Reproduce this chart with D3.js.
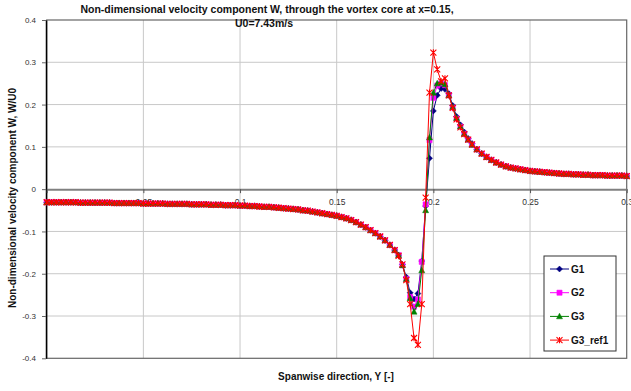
<!DOCTYPE html>
<html>
<head>
<meta charset="utf-8">
<script src="https://cdn.jsdelivr.net/npm/d3@7"></script>
<style>
  body { margin: 0; background: #fff; }
  svg { display: block; font-family: "Liberation Sans", Arial, sans-serif; }
</style>
</head>
<body>
<script>
// Spanwise positions Y: coarse on the flanks, finer through the core
const leftY = [
  0, 0.0025, 0.005, 0.0075, 0.01, 0.0125, 0.015, 0.0175, 0.02, 0.0225,
  0.025, 0.0275, 0.03, 0.0325, 0.035, 0.0375, 0.04, 0.0425, 0.045, 0.0475,
  0.05, 0.0525, 0.055, 0.0575, 0.06, 0.0625, 0.065, 0.0675, 0.07, 0.0725,
  0.075, 0.0775, 0.08, 0.0825, 0.085, 0.0875, 0.09, 0.0925, 0.095, 0.0975,
  0.1, 0.1025, 0.105, 0.1075, 0.11, 0.1125, 0.115, 0.1175, 0.12, 0.1225,
  0.125, 0.1275, 0.13, 0.1325, 0.135, 0.1375, 0.14, 0.1425, 0.145, 0.1475,
  0.15, 0.1525, 0.155, 0.1575, 0.16, 0.1625, 0.165, 0.1675, 0.17, 0.1725,
  0.175, 0.1775, 0.18
];
const coreY = [
  0.182, 0.184, 0.186, 0.188, 0.19, 0.192, 0.194, 0.196, 0.198, 0.2,
  0.202, 0.204, 0.206, 0.208, 0.21, 0.212, 0.214, 0.216, 0.218, 0.22
];
const rightY = [
  0.2225, 0.225, 0.2275, 0.23, 0.2325, 0.235, 0.2375, 0.24, 0.2425, 0.245,
  0.2475, 0.25, 0.2525, 0.255, 0.2575, 0.26, 0.2625, 0.265, 0.2675, 0.27,
  0.2725, 0.275, 0.2775, 0.28, 0.2825, 0.285, 0.2875, 0.29, 0.2925, 0.295,
  0.2975, 0.3
];

// W/U0 on the flanks, where all grids agree
const leftW = [
  -0.031, -0.031, -0.031, -0.031, -0.031, -0.031, -0.031, -0.032, -0.032, -0.032,
  -0.032, -0.032, -0.032, -0.032, -0.033, -0.033, -0.033, -0.033, -0.033, -0.033,
  -0.034, -0.034, -0.034, -0.034, -0.034, -0.035, -0.035, -0.035, -0.035, -0.035,
  -0.036, -0.036, -0.036, -0.036, -0.037, -0.037, -0.037, -0.038, -0.038, -0.038,
  -0.039, -0.039, -0.040, -0.040, -0.041, -0.042, -0.042, -0.043, -0.044, -0.045,
  -0.046, -0.047, -0.048, -0.050, -0.051, -0.053, -0.055, -0.057, -0.059, -0.061,
  -0.063, -0.066, -0.069, -0.073, -0.078, -0.084, -0.090, -0.097, -0.104, -0.112,
  -0.121, -0.132, -0.144
];
const rightW = [
  0.094, 0.084, 0.076, 0.069, 0.063, 0.058, 0.054, 0.051, 0.049, 0.047,
  0.045, 0.043, 0.042, 0.041, 0.040, 0.039, 0.038, 0.037, 0.036, 0.036,
  0.035, 0.035, 0.034, 0.034, 0.033, 0.033, 0.033, 0.032, 0.032, 0.032,
  0.032, 0.031
];

// W/U0 through the vortex core, per grid
const g1Core = [
  -0.156, -0.178, -0.208, -0.245, -0.260, -0.247, -0.170, -0.040, 0.073, 0.185,
  0.222, 0.238, 0.236, 0.226, 0.198, 0.172, 0.152, 0.135, 0.120, 0.108
];
const g2Core = [
  -0.156, -0.180, -0.212, -0.255, -0.278, -0.261, -0.172, -0.036, 0.116, 0.216,
  0.245, 0.250, 0.246, 0.222, 0.193, 0.167, 0.148, 0.131, 0.117, 0.105
];
const g3Core = [
  -0.156, -0.180, -0.213, -0.258, -0.290, -0.272, -0.192, -0.050, 0.122, 0.228,
  0.250, 0.252, 0.248, 0.222, 0.194, 0.168, 0.148, 0.131, 0.117, 0.105
];
const g3RefCore = [
  -0.158, -0.178, -0.215, -0.272, -0.352, -0.368, -0.272, -0.020, 0.228, 0.323,
  0.283, 0.255, 0.262, 0.222, 0.192, 0.165, 0.146, 0.130, 0.117, 0.106
];

const seriesNames = ['G1', 'G2', 'G3', 'G3_ref1'];
const xTicks = [0, 0.05, 0.1, 0.15, 0.2, 0.25, 0.3];
const xTickLabels = ['0', '0.05', '0.1', '0.15', '0.2', '0.25', '0.3'];
const yTicks = [0.4, 0.3, 0.2, 0.1, 0, -0.1, -0.2, -0.3, -0.4];
const yTickLabels = ['0.4', '0.3', '0.2', '0.1', '0', '-0.1', '-0.2', '-0.3', '-0.4'];

const width = 631;
const height = 391;
const plot = { left: 46.7, right: 626.7, top: 20, bottom: 358.3 };

const spanY = leftY.concat(coreY, rightY);
const series = [
  { name: seriesNames[0], w: leftW.concat(g1Core, rightW), color: '#000080', marker: 'diamond' },
  { name: seriesNames[1], w: leftW.concat(g2Core, rightW), color: '#ff00ff', marker: 'square' },
  { name: seriesNames[2], w: leftW.concat(g3Core, rightW), color: '#008000', marker: 'triangle' },
  { name: seriesNames[3], w: leftW.concat(g3RefCore, rightW), color: '#ff0000', marker: 'star' }
];

const x = d3.scaleLinear().domain([0, 0.3]).range([plot.left, plot.right]);
const y = d3.scaleLinear().domain([-0.4, 0.4]).range([plot.bottom, plot.top]);

const svg = d3.select('body').append('svg')
  .attr('width', width)
  .attr('height', height);

// Gridlines
svg.append('g')
  .selectAll('line')
  .data(xTicks.slice(1, -1))
  .enter()
  .append('line')
  .attr('x1', d => x(d)).attr('x2', d => x(d))
  .attr('y1', plot.top).attr('y2', plot.bottom)
  .attr('stroke', '#c8c8c8');

svg.append('g')
  .selectAll('line')
  .data(yTicks.filter(d => d !== 0 && Math.abs(d) !== 0.4))
  .enter()
  .append('line')
  .attr('x1', plot.left).attr('x2', plot.right)
  .attr('y1', d => y(d)).attr('y2', d => y(d))
  .attr('stroke', '#c8c8c8');

// Plot frame
svg.append('rect')
  .attr('x', plot.left).attr('y', plot.top)
  .attr('width', plot.right - plot.left)
  .attr('height', plot.bottom - plot.top)
  .attr('fill', 'none')
  .attr('stroke', '#666')
  .attr('stroke-width', 1.2);

// Y axis on the left edge
const yAxis = svg.append('g')
  .attr('transform', `translate(${plot.left - 0.7},0)`)
  .call(d3.axisLeft(y)
    .tickValues(yTicks)
    .tickSize(4)
    .tickSizeOuter(0)
    .tickPadding(6)
    .tickFormat((d, i) => yTickLabels[i]));
yAxis.select('.domain').attr('stroke', '#000').attr('stroke-width', 1.5);
yAxis.selectAll('.tick line').attr('stroke', '#666');
yAxis.selectAll('text').attr('font-size', 8).attr('fill', '#333');

// X axis along W = 0
const xAxis = svg.append('g')
  .attr('transform', `translate(0,${y(0)})`)
  .call(d3.axisBottom(x)
    .tickValues(xTicks)
    .tickSize(4)
    .tickSizeOuter(0)
    .tickPadding(6)
    .tickFormat((d, i) => xTickLabels[i]));
xAxis.select('.domain').attr('stroke', '#808080').attr('stroke-width', 2);
xAxis.selectAll('.tick line').attr('stroke', '#555');
xAxis.selectAll('text').attr('font-size', 8.5).attr('fill', '#333');

function markerPath (type) {
  if (type === 'diamond') return 'M0,-3L3,0L0,3L-3,0Z';
  if (type === 'square') return 'M-2.6,-2.6H2.6V2.6H-2.6Z';
  if (type === 'triangle') return 'M0,-3.2L3,2.4H-3Z';
  return 'M-3,-3L3,3M-3,3L3,-3M0,-3.2V3.2';
}

const line = d3.line()
  .x((d, i) => x(spanY[i]))
  .y(d => y(d));

series.forEach(s => {
  const g = svg.append('g');
  g.append('path')
    .attr('d', line(s.w))
    .attr('fill', 'none')
    .attr('stroke', s.color)
    .attr('stroke-width', 1);

  g.selectAll('path.pt')
    .data(s.w)
    .enter()
    .append('path')
    .attr('class', 'pt')
    .attr('transform', (d, i) => `translate(${x(spanY[i])},${y(d)})`)
    .attr('d', markerPath(s.marker))
    .attr('fill', s.marker === 'star' ? 'none' : s.color)
    .attr('stroke', s.color)
    .attr('stroke-width', s.marker === 'star' ? 1.1 : 0.5);
});

// Legend
const legend = svg.append('g').attr('transform', 'translate(544,256)');
legend.append('rect')
  .attr('width', 72).attr('height', 95)
  .attr('fill', '#fff')
  .attr('stroke', '#333')
  .attr('stroke-width', 1);

series.forEach((s, i) => {
  const row = legend.append('g').attr('transform', `translate(0,${13 + i * 23.7})`);
  row.append('line')
    .attr('x1', 6).attr('x2', 25)
    .attr('stroke', s.color).attr('stroke-width', 1);
  row.append('path')
    .attr('transform', 'translate(15.5,0)')
    .attr('d', markerPath(s.marker))
    .attr('fill', s.marker === 'star' ? 'none' : s.color)
    .attr('stroke', s.color)
    .attr('stroke-width', s.marker === 'star' ? 1.1 : 0.5);
  row.append('text')
    .attr('x', 27).attr('y', 3.5)
    .attr('font-size', 10)
    .attr('font-weight', 'bold')
    .attr('fill', '#111')
    .text(s.name);
});

// Titles
const title = svg.append('text')
  .attr('x', 267)
  .attr('text-anchor', 'middle')
  .attr('font-size', 10.5)
  .attr('font-weight', 'bold')
  .attr('fill', '#111');
title.append('tspan').attr('x', 267).attr('y', 12.5)
  .text('Non-dimensional velocity component W, through the vortex core at x=0.15,');
title.append('tspan').attr('x', 264).attr('y', 26.5)
  .text('U0=7.43m/s');

svg.append('text')
  .attr('transform', 'translate(15.5,198) rotate(-90)')
  .attr('text-anchor', 'middle')
  .attr('font-size', 10)
  .attr('font-weight', 'bold')
  .attr('fill', '#111')
  .text('Non-dimensional velocity component W, W/U0');

svg.append('text')
  .attr('x', 336)
  .attr('y', 380)
  .attr('text-anchor', 'middle')
  .attr('font-size', 10)
  .attr('font-weight', 'bold')
  .attr('fill', '#111')
  .text('Spanwise direction, Y [-]');
</script>
</body>
</html>
